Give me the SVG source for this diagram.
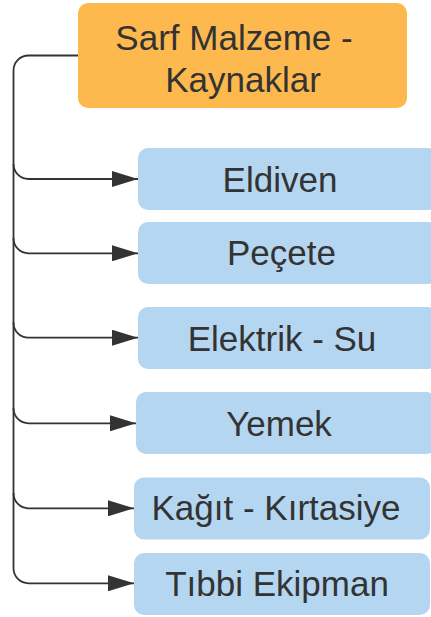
<svg xmlns="http://www.w3.org/2000/svg" width="431" height="617" viewBox="0 0 431 617">
  <style>
    .root { fill: #fdb94e; }
    .leaf { fill: #b4d6f0; }
    .label { font-family: "Liberation Sans", Arial, sans-serif; font-size: 35px; fill: #333333; text-anchor: middle; }
    .edge { fill: none; stroke: #333333; stroke-width: 1.8; }
  </style>
  <defs>
    <marker id="arrow" markerUnits="userSpaceOnUse" markerWidth="26" markerHeight="16" refX="26" refY="8" orient="auto">
      <path d="M0,0 L26,8 L0,16 Z" fill="#333333"/>
    </marker>
  </defs>

  <rect width="431" height="617" fill="#ffffff"/>

  <!-- trunk from the root node down the left side, with one branch per item -->
  <g id="connectors">
    <path class="edge" d="M78,55.5 H28.5 A15,15 0 0 0 13.5,70.5 V164 A15,15 0 0 0 28.5,179 H138" marker-end="url(#arrow)"/>
    <path class="edge" d="M13.5,164 V238.3 A15,15 0 0 0 28.5,253.3 H138" marker-end="url(#arrow)"/>
    <path class="edge" d="M13.5,238 V322.7 A15,15 0 0 0 28.5,337.7 H138" marker-end="url(#arrow)"/>
    <path class="edge" d="M13.5,322 V408.3 A15,15 0 0 0 28.5,423.3 H136" marker-end="url(#arrow)"/>
    <path class="edge" d="M13.5,408 V493.3 A15,15 0 0 0 28.5,508.3 H134" marker-end="url(#arrow)"/>
    <path class="edge" d="M13.5,493 V568.3 A15,15 0 0 0 28.5,583.3 H134" marker-end="url(#arrow)"/>
  </g>

  <g id="sarf-malzeme">
    <rect class="root" x="78" y="3" width="329" height="105" rx="10"/>
    <text class="label" x="234" y="50">Sarf Malzeme -</text>
    <text class="label" x="243" y="92">Kaynaklar</text>
  </g>

  <g id="eldiven">
    <rect class="leaf" x="138" y="148" width="300" height="62" rx="10"/>
    <text class="label" x="280" y="191.5">Eldiven</text>
  </g>

  <g id="pecete">
    <rect class="leaf" x="138" y="222" width="300" height="62" rx="10"/>
    <text class="label" x="281.5" y="265.3">Peçete</text>
  </g>

  <g id="elektrik-su">
    <rect class="leaf" x="138" y="307" width="300" height="62" rx="10"/>
    <text class="label" x="282" y="350.7">Elektrik - Su</text>
  </g>

  <g id="yemek">
    <rect class="leaf" x="136" y="392" width="300" height="62" rx="10"/>
    <text class="label" x="279" y="435.7">Yemek</text>
  </g>

  <g id="kagit-kirtasiye">
    <rect class="leaf" x="134" y="477.5" width="296" height="62" rx="10"/>
    <text class="label" x="276" y="520">Kağıt - Kırtasiye</text>
  </g>

  <g id="tibbi-ekipman">
    <rect class="leaf" x="134" y="553" width="296" height="62" rx="10"/>
    <text class="label" x="277" y="596">Tıbbi Ekipman</text>
  </g>
</svg>
